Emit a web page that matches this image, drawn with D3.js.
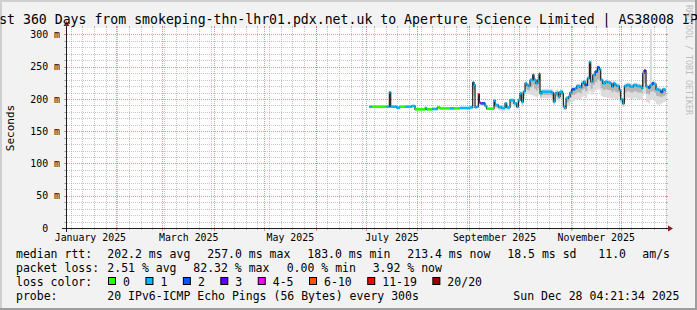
<!DOCTYPE html>
<html>
<head>
<meta charset="utf-8">
<script src="https://cdn.jsdelivr.net/npm/d3@7"></script>
<style>
  html, body { margin: 0; padding: 0; background: #f2f2f2; }
  svg { display: block; font-family: "DejaVu Sans Mono", monospace; }
  text { fill: #000; white-space: pre; }
</style>
</head>
<body>
<svg id="chart" width="697" height="310"></svg>
<script>
// ---- data ----
var titleText = "Last 360 Days from smokeping-thn-lhr01.pdx.net.uk to Aperture Science Limited | AS38008 IPv6";
var graphStart = new Date(2025, 0, 2, 4, 21, 34);
var graphEnd = new Date(2025, 11, 28, 4, 21, 34);
var yMax = 310;

// sample times, as days since 1 Jan 2025
var sampleDay = [183.2,184.8,193.6,195.2,196.0,199.6,201.6,205.0,208.6,210.6,
  216.6,217.6,221.0,224.0,225.6,231.6,234.0,237.6,243.6,245.2,
  246.0,246.6,247.6,248.6,249.2,250.0,252.6,253.6,258.0,258.6,
  260.6,262.6,264.6,265.6,267.6,270.0,271.6,272.6,273.6,274.6,
  275.6,276.6,277.6,278.6,279.6,281.2,282.0,283.2,284.2,285.0,
  285.6,286.6,292.6,293.6,294.6,295.6,296.6,297.6,299.0,299.6,
  300.6,301.2,302.6,303.6,304.6,306.6,307.6,309.6,310.6,311.6,
  312.6,314.0,315.2,316.0,317.2,318.6,320.0,321.2,322.0,323.2,
  324.6,326.0,327.6,328.6,329.6,330.6,331.6,333.2,334.0,335.2,
  336.2,337.6,339.6,341.6,343.6,345.6,346.8,347.2,348.0,349.2,
  350.6,351.6,352.8,354.0,355.2,356.6,358.0,359.2,360.6];

// median rtt in ms
var medianMs = [188.0,188.0,188.0,210.2,188.0,186.5,188.0,188.0,189.1,183.9,
  186.0,183.9,184.5,187.0,185.4,185.4,185.4,186.0,187.0,225.2,
  222.0,187.0,188.0,207.1,194.2,193.2,189.1,184.9,197.3,190.6,
  187.5,186.0,193.2,187.0,198.3,193.2,188.0,198.3,208.7,195.8,
  211.3,224.2,221.6,220.1,229.4,237.1,229.4,224.2,229.4,238.7,
  208.7,211.3,209.7,195.8,208.7,209.7,203.5,211.3,208.7,188.0,
  185.4,201.0,203.5,209.7,214.9,216.4,220.1,218.0,224.2,226.8,
  221.6,232.0,257.0,226.8,237.1,242.3,249.0,245.9,229.4,224.2,
  226.8,225.8,224.2,219.0,224.2,221.6,220.1,213.9,199.4,193.2,
  220.1,221.6,219.0,221.6,220.1,219.0,216.4,239.7,243.8,219.0,
  217.5,221.6,224.2,223.2,214.9,213.9,210.8,214.9,213.4];

// lost pings out of 20
var lossCount = [1,0,1,1,1,1,0,1,1,0,
  1,0,1,0,0,1,0,1,1,2,
  1,1,1,11,4,2,1,0,1,1,
  1,1,1,1,1,1,1,1,1,1,
  1,1,1,1,1,2,1,1,1,2,
  1,1,1,1,1,1,1,1,1,1,
  0,1,1,1,2,1,1,1,1,1,
  2,1,1,1,1,2,2,1,1,1,
  1,1,1,1,1,1,1,1,1,1,
  1,1,1,1,1,1,1,1,3,1,
  2,1,2,1,1,1,2,1,1];

// smoke: lowest ping, lower edge of the dense part, highest ping (ms)
var smokeLow = [186.0,186.0,186.0,186.0,186.0,184.5,186.0,186.0,187.0,182.0,
  184.0,182.0,182.5,185.0,183.5,183.5,183.5,184.0,185.0,205.0,
  205.0,185.0,186.0,200.0,190.0,189.0,187.0,183.0,191.3,185.0,
  182.0,181.0,187.0,182.0,191.0,187.0,183.0,190.0,197.0,188.0,
  200.0,210.0,208.0,207.0,206.0,205.0,204.0,203.0,205.0,206.0,
  200.0,201.0,200.0,190.0,198.0,200.0,196.0,200.0,198.0,183.0,
  182.0,188.0,190.0,194.0,197.0,198.0,200.0,199.0,203.0,205.0,
  202.0,208.0,212.0,206.0,210.0,213.0,215.0,213.0,205.0,203.0,
  203.0,202.0,201.0,199.0,201.0,200.0,200.0,196.0,190.0,187.0,
  200.0,202.0,200.0,201.0,199.0,199.0,197.0,205.0,208.0,195.0,
  193.0,198.0,200.0,196.0,192.0,191.0,193.0,195.0,196.0];
var smokeDense = [187.0,187.0,187.0,205.0,187.0,185.5,187.0,187.0,188.0,183.0,
  185.0,183.0,183.5,186.0,184.5,184.5,184.5,185.0,186.0,215.0,
  214.0,186.0,187.0,202.0,192.0,191.0,188.0,184.0,194.0,188.0,
  185.0,184.0,190.0,185.0,195.0,190.0,186.0,194.0,203.0,192.0,
  205.0,216.0,214.0,213.0,218.0,222.0,216.0,213.0,217.0,222.0,
  204.0,206.0,205.0,193.0,204.0,205.0,200.0,206.0,204.0,186.0,
  184.0,195.0,197.0,202.0,206.0,208.0,210.0,209.0,214.0,216.0,
  212.0,220.0,230.0,216.0,222.0,226.0,230.0,228.0,217.0,214.0,
  215.0,214.0,213.0,210.0,213.0,211.0,210.0,205.0,195.0,190.0,
  210.0,212.0,210.0,212.0,210.0,210.0,208.0,220.0,225.0,208.0,
  207.0,211.0,212.0,210.0,205.0,204.0,203.0,205.0,206.0];
var smokeHigh = [189.5,189.5,189.5,211.5,189.5,188.0,189.5,189.5,190.5,185.5,
  187.5,185.5,186.0,188.5,187.0,187.0,187.0,187.5,188.5,227.0,
  224.0,188.5,189.5,209.0,196.0,195.0,191.0,186.5,199.5,193.0,
  190.0,188.5,195.5,189.5,200.5,195.5,190.5,201.5,212.0,199.0,
  214.5,227.5,225.0,223.5,233.0,240.5,233.0,228.0,233.0,242.0,
  214.0,216.0,215.0,203.0,214.0,215.0,209.0,216.0,213.0,195.0,
  190.0,204.5,207.0,213.0,218.5,220.0,223.5,221.5,227.5,230.0,
  225.0,235.5,259.0,230.0,240.5,245.5,252.0,249.0,233.0,228.0,
  230.0,229.5,228.0,223.0,228.0,225.0,224.0,218.0,204.0,197.0,
  224.0,225.0,223.0,225.0,224.0,223.0,220.0,243.0,247.0,223.0,
  221.0,308.0,228.0,227.0,219.0,218.0,215.0,218.0,217.0];

var yTicks = [0, 50, 100, 150, 200, 250, 300];
var yTickLabels = ["0  ", "50 m", "100 m", "150 m", "200 m", "250 m", "300 m"];
var xTickLabels = ["January 2025", "March 2025", "May 2025", "July 2025", "September 2025", "November 2025"];

var lossLabels = ["0", "1", "2", "3", "4-5", "6-10", "11-19", "20/20"];
var lossFrom = [0, 1, 2, 3, 4, 6, 11, 20];
var lossColors = ["#26ff00", "#00b8ff", "#0059ff", "#5e00ff", "#ff00ff", "#ff5500", "#ff0000", "#a10000"];

var rowLabels = ["median rtt:", "packet loss:", "loss color:", "probe:"];
var statRtt = ["202.2 ms avg", "257.0 ms max", "183.0 ms min", "213.4 ms now", "18.5 ms sd", "11.0", "am/s"];
var statLoss = ["2.51 % avg", "82.32 % max", "0.00 % min", "3.92 % now"];
var probeText = "20 IPv6-ICMP Echo Pings (56 Bytes) every 300s";
var stampText = "Sun Dec 28 04:21:34 2025";
var watermark = "RRDTOOL / TOBI OETIKER";

// ---- drawing ----
var W = 697, H = 310;
var svg = d3.select("#chart");
var yearStart = new Date(2025, 0, 1);
function dayToDate(d) { return new Date(+yearStart + d * 864e5); }

var x = d3.scaleTime().domain([graphStart, graphEnd]).range([66, 666]);
var y = d3.scaleLinear().domain([0, yMax]).range([228, 28]);
var X0 = x.range()[0], X1 = x.range()[1], Y0 = y(0), Y1 = y(yMax);
function px(v) { return Math.round(v) + 0.5; }

var samples = sampleDay.map(function(d, i) {
  return { t: dayToDate(d), m: medianMs[i], loss: lossCount[i],
           lo: smokeLow[i], mid: smokeDense[i], hi: smokeHigh[i] };
});
samples.forEach(function(s, i) {
  s.t2 = i < samples.length - 1 ? samples[i + 1].t : graphEnd;
});
var stepped = samples.concat([Object.assign({}, samples[samples.length - 1], { t: graphEnd })]);

// background + 3d frame
svg.append("rect").attr("width", W).attr("height", H).attr("fill", "#f2f2f2");
svg.append("path").attr("d", "M0,0H" + W + "V2H2V" + H + "H0Z").attr("fill", "#cfcfcf");
svg.append("path").attr("d", "M" + W + "," + H + "H0V" + (H - 2) + "H" + (W - 2) + "V0H" + W + "Z").attr("fill", "#9e9e9e");

// canvas
svg.append("rect").attr("x", X0).attr("y", Y1).attr("width", X1 - X0).attr("height", Y0 - Y1).attr("fill", "#fff");

// grid
var grid = svg.append("g").attr("shape-rendering", "crispEdges").attr("fill", "none");
var gridCol = "rgba(143,143,143,0.5)", mgridCol = "rgba(222,79,79,0.6)";

function hGrid(v, col) {
  var yy = px(y(v));
  grid.append("line").attr("x1", X0 - 2).attr("x2", X0).attr("y1", yy).attr("y2", yy).attr("stroke", col);
  grid.append("line").attr("x1", X1).attr("x2", X1 + 2).attr("y1", yy).attr("y2", yy).attr("stroke", col);
  grid.append("line").attr("x1", X0 - 1).attr("x2", X1 + 1).attr("y1", yy).attr("y2", yy)
    .attr("stroke", col).attr("stroke-dasharray", "1,1");
}
function vGrid(t, col, below) {
  var xx = px(x(t));
  grid.append("line").attr("x1", xx).attr("x2", xx).attr("y1", Y1 - 2).attr("y2", Y1).attr("stroke", col);
  grid.append("line").attr("x1", xx).attr("x2", xx).attr("y1", Y0).attr("y2", Y0 + below).attr("stroke", col);
  grid.append("line").attr("x1", xx).attr("x2", xx).attr("y1", Y0).attr("y2", Y1 - 2)
    .attr("stroke", col).attr("stroke-dasharray", "1,1");
}

d3.range(10, yMax, 10).filter(function(v) { return v % 50 !== 0; }).forEach(function(v) { hGrid(v, gridCol); });
d3.timeSunday.range(graphStart, graphEnd).forEach(function(t) { vGrid(t, gridCol, 2); });
yTicks.filter(function(v) { return v > 0; }).forEach(function(v) { hGrid(v, mgridCol); });
d3.timeMonth.range(graphStart, graphEnd).forEach(function(t) { vGrid(t, mgridCol, 3); });

// smoke
var plot = svg.append("g");
plot.append("path").datum(stepped)
  .attr("d", d3.area().curve(d3.curveStepAfter)
    .x(function(d) { return x(d.t); }).y0(function(d) { return y(d.lo); }).y1(function(d) { return y(d.hi); }))
  .attr("fill", "#dcdcdc");
plot.append("path").datum(stepped)
  .attr("d", d3.area().curve(d3.curveStepAfter)
    .x(function(d) { return x(d.t); }).y0(function(d) { return y(d.mid); }).y1(function(d) { return y(d.m); }))
  .attr("fill", "#b4b4b4");

// median line
plot.append("path").datum(stepped)
  .attr("d", d3.line().curve(d3.curveStepAfter)
    .x(function(d) { return x(d.t); }).y(function(d) { return y(d.m); }))
  .attr("fill", "none").attr("stroke", "#202020").attr("stroke-width", 1.2);

// loss coloured median blocks
function lossColor(n) { return lossColors[d3.bisectRight(lossFrom, n) - 1]; }
plot.selectAll("rect.med").data(samples).enter().append("rect")
  .attr("class", "med")
  .attr("x", function(d) { return x(d.t); })
  .attr("width", function(d) { return Math.max(1, x(d.t2) - x(d.t)); })
  .attr("y", function(d) { return y(d.m) - 1.3; })
  .attr("height", 2.6)
  .attr("fill", function(d) { return lossColor(d.loss); });

// axes (labels through d3 axes)
var yAxis = svg.append("g").attr("transform", "translate(" + X0 + ",0)")
  .call(d3.axisLeft(y).tickValues(yTicks).tickFormat(function(d, i) { return yTickLabels[i]; })
    .tickSize(0).tickPadding(6));
var monthStarts = xTickLabels.map(d3.timeParse("%B %Y"));
var mids = monthStarts.map(function(m) { return new Date((+m + +d3.timeMonth.offset(m, 1)) / 2); });
var xAxis = svg.append("g").attr("transform", "translate(0," + Y0 + ")")
  .call(d3.axisBottom(x).tickValues(mids).tickFormat(function(d, i) { return xTickLabels[i]; })
    .tickSize(0).tickPadding(5.5));
[yAxis, xAxis].forEach(function(g) {
  g.select(".domain").remove();
  g.attr("font-family", null).attr("font-size", 9.9);
  g.selectAll("text").attr("fill", "#000");
});

// rrdtool style axis lines and arrows
var ax = svg.append("g");
ax.append("line").attr("x1", X0 - 4).attr("x2", X1 + 4).attr("y1", Y0 + 0.5).attr("y2", Y0 + 0.5)
  .attr("stroke", "#1f1f1f").attr("shape-rendering", "crispEdges");
ax.append("line").attr("x1", X0 + 0.5).attr("x2", X0 + 0.5).attr("y1", Y0 + 4).attr("y2", Y1 - 4)
  .attr("stroke", "#1f1f1f").attr("shape-rendering", "crispEdges");
ax.append("path").attr("d", "M" + (X1 + 2) + "," + (Y0 - 2.5) + "L" + (X1 + 2) + "," + (Y0 + 3.5) + "L" + (X1 + 7) + "," + (Y0 + 0.5) + "Z")
  .attr("fill", "#801f1f");
ax.append("path").attr("d", "M" + (X0 - 2.5) + "," + (Y1 - 2) + "L" + (X0 + 3.5) + "," + (Y1 - 2) + "L" + (X0 + 0.5) + "," + (Y1 - 7) + "Z")
  .attr("fill", "#801f1f");

// title, axis title, watermark
svg.append("text").attr("x", W / 2).attr("y", 23.5).attr("text-anchor", "middle")
  .attr("font-size", 13.2).text(titleText);
svg.append("text").attr("transform", "translate(14," + ((Y0 + Y1) / 2) + ") rotate(-90)")
  .attr("text-anchor", "middle").attr("font-size", 11).text("Seconds");
svg.append("text").attr("transform", "translate(685.5,5) rotate(90)")
  .attr("font-size", 8.3).style("fill", "#bdbdbd").text(watermark);

// legend
var legend = svg.append("g").attr("font-size", 11.5);
var rowY = [258, 272, 285.5, 299.5];
rowLabels.forEach(function(t, i) {
  legend.append("text").attr("x", 16).attr("y", rowY[i]).text(t);
});
var rttX = [107.3, 207.3, 307.3, 407.3, 507.3, 598.3, 642.3];
statRtt.forEach(function(t, i) { legend.append("text").attr("x", rttX[i]).attr("y", rowY[0]).text(t); });
var lossX = [107.3, 193.3, 286.7, 372.7];
statLoss.forEach(function(t, i) { legend.append("text").attr("x", lossX[i]).attr("y", rowY[1]).text(t); });

var bx = 108;
lossLabels.forEach(function(lab, i) {
  legend.append("rect").attr("x", bx + 0.5).attr("y", rowY[2] - 8).attr("width", 7).attr("height", 7)
    .attr("fill", lossColors[i]).attr("stroke", "#000").attr("stroke-width", 1);
  var t = legend.append("text").attr("x", bx + 15).attr("y", rowY[2]).text(lab);
  bx = bx + 15 + t.node().getComputedTextLength() + 15.5;
});

legend.append("text").attr("x", 107.3).attr("y", rowY[3]).text(probeText);
legend.append("text").attr("x", 513.3).attr("y", rowY[3]).text(stampText);
</script>
</body>
</html>
